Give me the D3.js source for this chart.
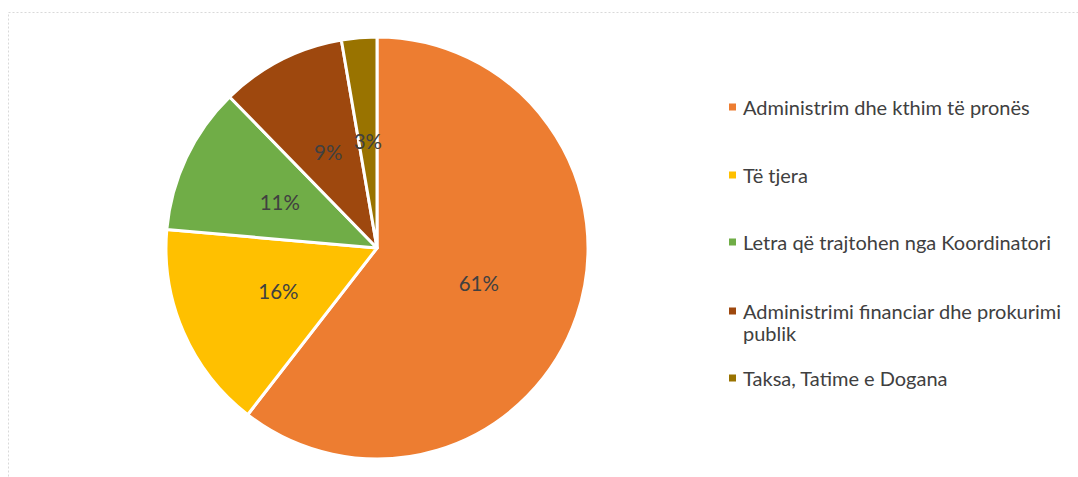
<!DOCTYPE html>
<html><head><meta charset="utf-8">
<script src="https://cdnjs.cloudflare.com/ajax/libs/d3/7.8.5/d3.min.js"></script>
<style>body{margin:0;background:#fff}svg{display:block}</style>
</head><body>
<svg id="chart" width="1078" height="477"></svg>
<script>
const categories = ["Administrim dhe kthim të pronës", "Të tjera", "Letra që trajtohen nga Koordinatori", "Administrimi financiar dhe prokurimi publik", "Taksa, Tatime e Dogana"];
const legendLines = [["Administrim dhe kthim të pronës"], ["Të tjera"], ["Letra që trajtohen nga Koordinatori"], ["Administrimi financiar dhe prokurimi", "publik"], ["Taksa, Tatime e Dogana"]];
const values = [60.5, 15.9, 11.3, 9.6, 2.7];
const labels = ["61%", "16%", "11%", "9%", "3%"];
const colors = ["#ED7D31", "#FFC000", "#70AD47", "#9E480E", "#997300"];

const svg = d3.select("#chart");
const FONT = "Lato, 'Open Sans', sans-serif";
const TXT = "#404040";

svg.append("rect").attr("x", 8.5).attr("y", 12.5).attr("width", 1200).attr("height", 600)
  .attr("fill", "none").attr("stroke", "#d9d9d9").attr("stroke-dasharray", "2,2");

const cx = 377, cy = 248, r = 211;
const pie = d3.pie().sort(null).value(d => d);
const arcs = pie(values);
const arc = d3.arc().innerRadius(0).outerRadius(r);
const labelArc = d3.arc().innerRadius(r * 0.51).outerRadius(r * 0.51);
const g = svg.append("g").attr("transform", `translate(${cx},${cy})`);
g.selectAll("path").data(arcs).join("path")
  .attr("d", arc).attr("fill", (d, i) => colors[i])
  .attr("stroke", "#fff").attr("stroke-width", 3).attr("stroke-linejoin", "round");
g.selectAll("text").data(arcs).join("text")
  .attr("transform", d => `translate(${labelArc.centroid(d)})`)
  .attr("text-anchor", "middle").attr("dominant-baseline", "central")
  .attr("font-family", FONT).attr("font-size", 20.5).attr("fill", TXT)
  .text((d, i) => labels[i]);

const ys = [107, 175, 242, 311, 378];
const lg = svg.append("g");
categories.forEach((c, i) => {
  const y = ys[i];
  lg.append("rect").attr("x", 729).attr("y", y - 3.5).attr("width", 7).attr("height", 7).attr("fill", colors[i]);
  const t = lg.append("text").attr("x", 743).attr("y", y).attr("dominant-baseline", "central")
    .attr("font-family", FONT).attr("font-size", 20).attr("fill", TXT);
  legendLines[i].forEach((ln, j) => {
    t.append("tspan").attr("x", 743).attr("y", y + j * 22).text(ln);
  });
});
</script>
</body></html>
